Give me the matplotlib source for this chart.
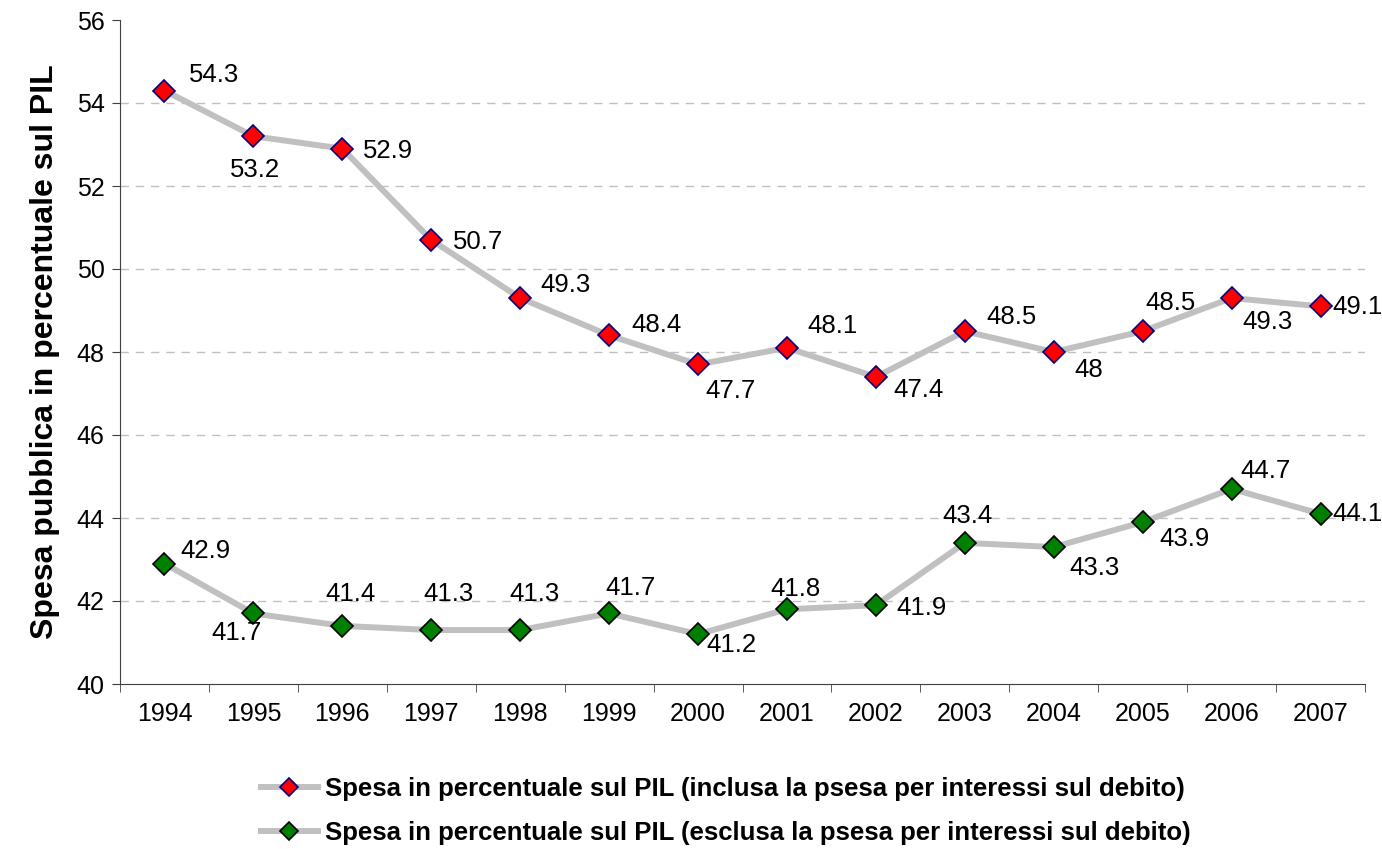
import matplotlib.pyplot as plt
import numpy as np

plt.rcParams['font.family'] = ['Liberation Sans', 'DejaVu Sans']

years = ['1994', '1995', '1996', '1997', '1998', '1999', '2000',
         '2001', '2002', '2003', '2004', '2005', '2006', '2007']
incl = [54.3, 53.2, 52.9, 50.7, 49.3, 48.4, 47.7, 48.1, 47.4, 48.5, 48, 48.5, 49.3, 49.1]
escl = [42.9, 41.7, 41.4, 41.3, 41.3, 41.7, 41.2, 41.8, 41.9, 43.4, 43.3, 43.9, 44.7, 44.1]
label_incl = 'Spesa in percentuale sul PIL (inclusa la psesa per interessi sul debito)'
label_escl = 'Spesa in percentuale sul PIL (esclusa la psesa per interessi sul debito)'

# posizione delle etichette (pixel, rispetto al punto)
off_incl = [(50, 16), (2, -34), (46, -2), (47, -2), (45, 13), (47, 10), (32, -27),
            (46, 22), (43, -13), (47, 14), (35, -18), (28, 28), (36, -24), (37, -1)]
off_escl = [(41, 13), (-17, -20), (8, 32), (17, 36), (14, 36), (21, 25), (33, -11),
            (9, 20), (46, -3), (3, 27), (41, -21), (42, -17), (34, 18), (37, 0)]

W, H = 1382, 849
fig = plt.figure(figsize=(W / 100, H / 100), dpi=100)
ax = fig.add_axes([120 / W, 1 - 684 / H, (1365 - 120) / W, (684 - 20) / H])

x = np.arange(len(years))
l1, = ax.plot(x, incl, color='#c0c0c0', lw=4.3, marker='D', ms=11,
              mfc='#ff0000', mec='#000080', mew=1.2, label=label_incl, zorder=3)
l2, = ax.plot(x, escl, color='#c0c0c0', lw=4.3, marker='D', ms=11,
              mfc='#008000', mec='#000000', mew=1.2, label=label_escl, zorder=3)

for vals, offs in ((incl, off_incl), (escl, off_escl)):
    for xi, v, (dx, dy) in zip(x, vals, offs):
        ax.annotate(f'{v:g}', (xi, v), xytext=(dx, dy), textcoords='offset pixels',
                    ha='center', va='center', fontsize=18.5, clip_on=False, zorder=4)

ax.set_xlim(-0.5, len(years) - 0.5)
ax.set_ylim(40, 56)
ax.set_yticks(range(40, 57, 2))
ax.set_xticks(x)
ax.set_xticklabels(years, fontsize=18)
ax.set_xticks(np.arange(-0.5, len(years), 1), minor=True)
ax.tick_params(axis='x', which='major', length=0, pad=13)
ax.tick_params(axis='x', which='minor', length=6, color='#404040', direction='out')
ax.tick_params(axis='y', length=6, color='#404040', labelsize=18, pad=5)
for v in range(42, 56, 2):
    ax.axhline(v, color='#c0c0c0', lw=1, ls=(0, (6, 5)), zorder=1)
for s in ('top', 'right'):
    ax.spines[s].set_visible(False)
for s in ('left', 'bottom'):
    ax.spines[s].set_color('#404040')

ax.set_ylabel('Spesa pubblica in percentuale sul PIL', fontsize=23, fontweight='bold', labelpad=12)

fig.legend(handles=[l1, l2], loc='center', bbox_to_anchor=(726 / W, 1 - 811 / H),
           frameon=False, prop={'size': 18.5, 'weight': 'bold'}, handlelength=2.2,
           handletextpad=0.3, labelspacing=0.78, markerscale=0.8)

fig.savefig('out.png', dpi=100)
